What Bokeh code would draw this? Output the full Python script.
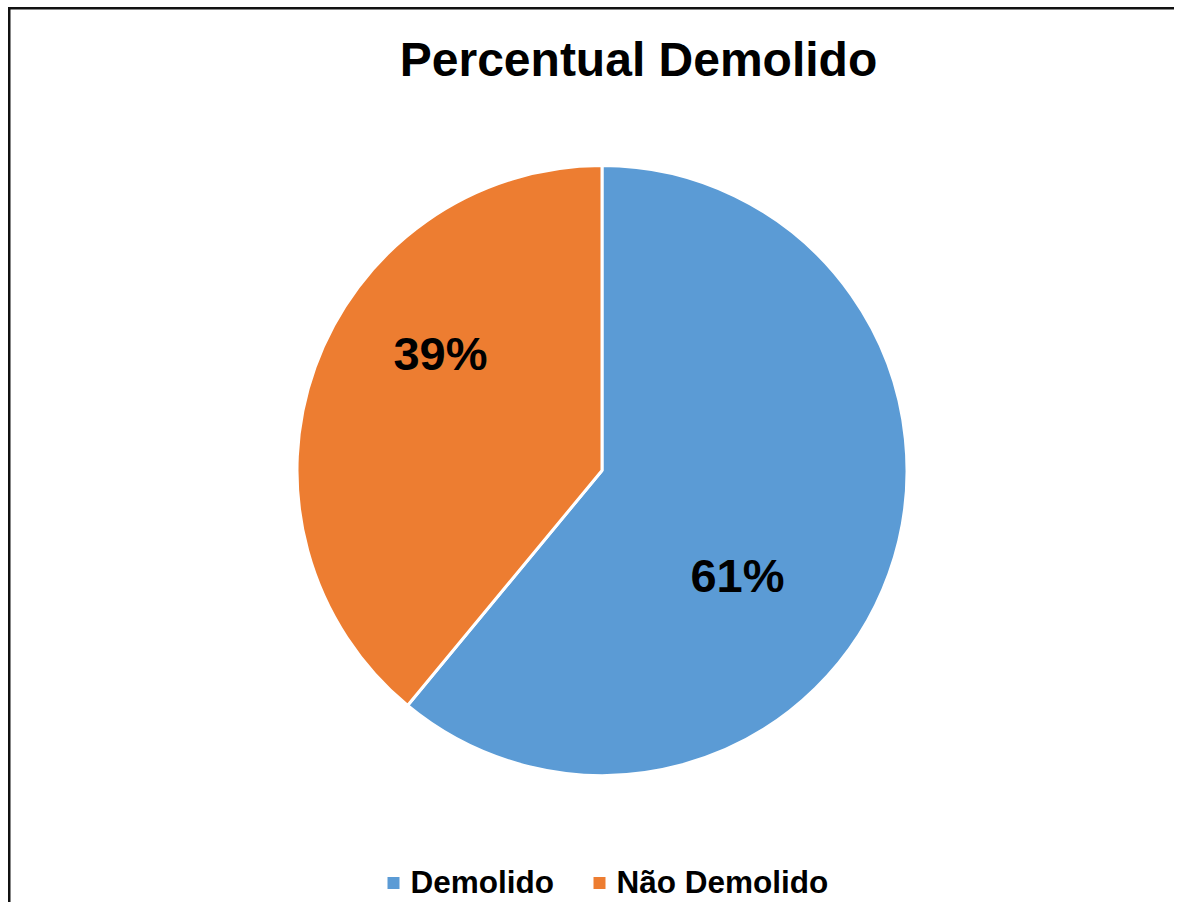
import math
from bokeh.plotting import figure
from bokeh.models import Range1d, BoxAnnotation, Label, ColumnDataSource
from bokeh.core.properties import value
from bokeh.embed import file_html
from bokeh.resources import INLINE

# ---- data ----
title_text = "Percentual Demolido"
categories = ["Demolido", "Não Demolido"]
shares = [61, 39]
labels = ["61%", "39%"]
colors = ["#5B9BD5", "#ED7D31"]

W, H = 1174, 902
p = figure(width=W, height=H, output_backend="svg", toolbar_location=None,
           x_range=Range1d(0, W), y_range=Range1d(0, H),
           min_border=0, outline_line_color=None)
p.axis.visible = False
p.grid.visible = False
p.background_fill_color = "white"
p.border_fill_color = "white"

# chart-area border (only left & top edges fall inside the picture)
p.add_layout(BoxAnnotation(left=7.5, right=10, top=H - 6.5, bottom=None,
                           fill_color="#111111", fill_alpha=1, line_color=None,
                           level="underlay"))
p.add_layout(BoxAnnotation(left=7.5, right=None, top=H - 6.5, bottom=H - 9,
                           fill_color="#111111", fill_alpha=1, line_color=None,
                           level="underlay"))

# pie
cx, cy, r = 601.5, 432, 305
total = sum(shares)
starts, ends = [], []
acc = 0.0
for s in shares:
    a0 = math.pi / 2 - 2 * math.pi * acc / total
    a1 = math.pi / 2 - 2 * math.pi * (acc + s) / total
    starts.append(a1)
    ends.append(a0)
    acc += s
src = ColumnDataSource(dict(cat=categories, start=starts, end=ends, color=colors))
p.wedge(x=cx, y=cy, radius=r, start_angle="start", end_angle="end",
        fill_color="color", line_color="white", line_width=3, source=src)

font = value("Liberation Sans")

# slice labels
label_pos = {"61%": (737, 327), "39%": (440, 549)}
for lab in labels:
    x, y = label_pos[lab]
    p.add_layout(Label(x=x, y=y, text=lab, text_align="center", text_baseline="alphabetic",
                       text_font="Liberation Sans", text_font_style="bold",
                       text_font_size="47px", text_color="black"))

# title
p.add_layout(Label(x=638, y=843, text=title_text, text_align="center",
                   text_baseline="alphabetic", text_font="Liberation Sans",
                   text_font_style="bold", text_font_size="48px", text_color="black"))

# legend (manual)
leg_sq_x = [393, 599]
leg_tx_x = [410, 616]
p.rect(x=leg_sq_x, y=[19.5, 19.5], width=12, height=12, fill_color=colors, line_color=None)
p.text(x=leg_tx_x, y=[21, 21], text=categories, text_font=font, text_font_style="bold",
       text_font_size="31.5px", text_color="black", text_baseline="alphabetic", text_align="left")

open("out.html", "w").write(file_html(p, INLINE))
